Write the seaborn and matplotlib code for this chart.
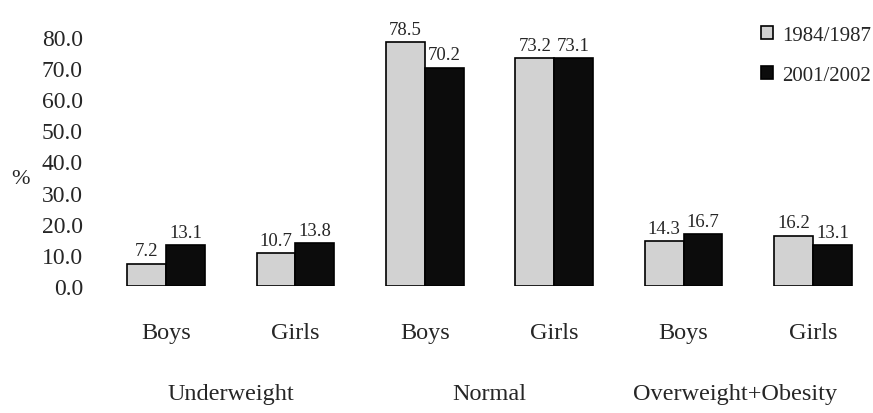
import pandas as pd
import matplotlib
matplotlib.use("Agg")
import matplotlib.pyplot as plt
import seaborn as sns

# data
groups = ["Underweight", "Normal", "Overweight+Obesity"]
sexes = ["Boys", "Girls"]
periods = ["1984/1987", "2001/2002"]
vals_1984 = [7.2, 10.7, 78.5, 73.2, 14.3, 16.2]
vals_2001 = [13.1, 13.8, 70.2, 73.1, 16.7, 13.1]

cats = [g + " " + s for g in groups for s in sexes]
df = pd.DataFrame({
    "cat": cats * 2,
    "period": [periods[0]] * 6 + [periods[1]] * 6,
    "value": vals_1984 + vals_2001,
})

sns.set_style("white")
plt.rcParams["font.family"] = ["Liberation Serif", "DejaVu Serif"]

fig = plt.figure(figsize=(8.73, 4.14), dpi=100)
ax = fig.add_axes([0.1013, 0.3068, 0.8893, 0.639])

sns.barplot(data=df, x="cat", y="value", hue="period", order=cats,
            hue_order=periods, palette=["#d2d2d2", "#0c0c0c"],
            width=0.6, edgecolor="black", linewidth=1.2, ax=ax,
            saturation=1, errorbar=None)

for cont in ax.containers:
    ax.bar_label(cont, fmt="%.1f", padding=3, fontsize=13.5)

ax.set_xlim(-0.6, 5.4)
ax.set_ylim(0, 85)
ax.set_yticks(range(0, 81, 10))
ax.set_yticklabels([f"{v:.1f}" for v in range(0, 81, 10)], fontsize=17)
ax.set_xticks(range(6))
ax.set_xticklabels(sexes * 3, fontsize=17.5)
ax.tick_params(axis="x", length=0, pad=26)
ax.tick_params(axis="y", length=0, pad=4)
ax.set_xlabel("")
ax.set_ylabel("")
sns.despine(ax=ax, left=True, bottom=True)

fig.text(20 / 873, 1 - 180 / 414, "%", fontsize=16, ha="center", va="center")

for xpos, name in zip([0.5, 2.5, 4.4], groups):
    ax.text(xpos, -34.5, name, fontsize=17.5, ha="center", va="center")

ax.legend(loc="upper left", bbox_to_anchor=(0.862, 0.955),
          bbox_transform=fig.transFigure, frameon=False, fontsize=15,
          handlelength=0.6, handleheight=0.6, handletextpad=0.4,
          labelspacing=1.0, borderaxespad=0)

fig.savefig("out.png", dpi=100)
